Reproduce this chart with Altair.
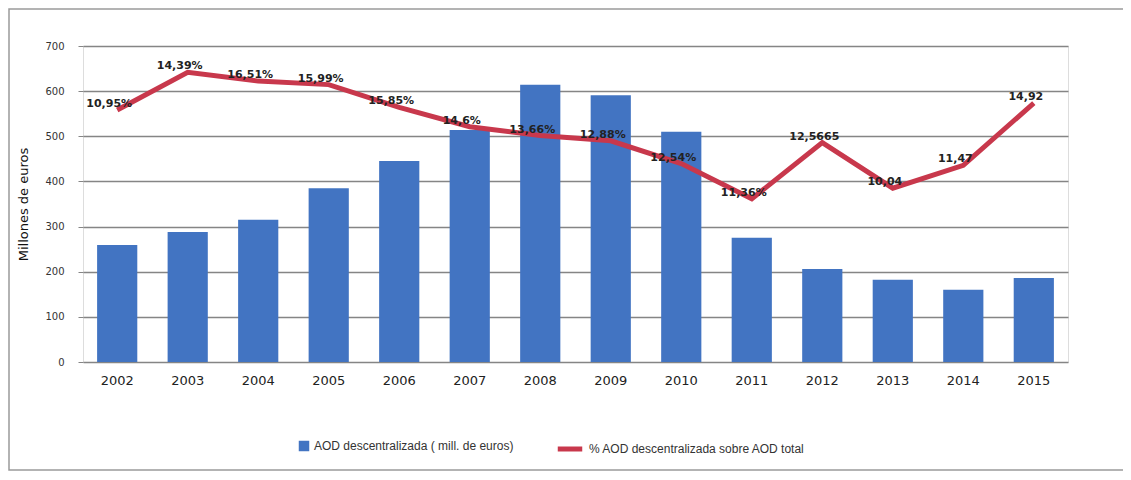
import altair as alt
import pandas as pd

years = [str(y) for y in range(2002, 2016)]
aod = [259, 288, 315, 385, 445, 514, 614, 591, 510, 275, 206, 182, 160, 186]
pct = [14.35, 16.5, 16.0, 15.8, 14.5, 13.4, 12.9, 12.6, 11.3, 9.3, 12.5, 9.9, 11.2, 14.75]
labels = ["10,95%", "14,39%", "16,51%", "15,99%", "15,85%", "14,6%", "13,66%",
          "12,88%", "12,54%", "11,36%", "12,5665", "10,04", "11,47", "14,92"]
bar_name = "AOD descentralizada ( mill. de euros)"
line_name = "% AOD descentralizada sobre AOD total"

df = pd.DataFrame({"year": years, "aod": aod, "pct": pct, "label": labels,
                   "sb": bar_name, "sl": line_name})

FONT = "DejaVu Sans"
LFONT = "Liberation Sans"
W, H = 985, 316

x = alt.X("year:N", title=None, sort=years,
          scale=alt.Scale(paddingInner=0.43, paddingOuter=0.2),
          axis=alt.Axis(labelAngle=0, ticks=False, domain=False, labelFontSize=13,
                        labelPadding=12, labelColor="#222", labelFont=FONT))

bars = alt.Chart(df).mark_bar(color="#4274c2").encode(
    x=x,
    y=alt.Y("aod:Q", title="Millones de euros",
            scale=alt.Scale(domain=[0, 700]),
            axis=alt.Axis(values=list(range(0, 701, 100)), domain=False, grid=True,
                          gridColor="#858585", gridWidth=1.6, tickColor="#858585",
                          tickSize=5, labelFontSize=10, labelColor="#333",
                          labelFont=FONT, labelPadding=14, titleFont=FONT,
                          titleFontSize=13, titleFontWeight="normal",
                          titleColor="#111", titlePadding=14)),
    fill=alt.Fill("sb:N", title=None,
                  scale=alt.Scale(domain=[bar_name], range=["#4274c2"]),
                  legend=alt.Legend(orient="none", legendX=215, legendY=394,
                                    symbolType="square", symbolSize=110,
                                    labelFontSize=12, labelFont=LFONT, labelLimit=0,
                                    labelColor="#333", symbolStrokeWidth=0)),
)

line = alt.Chart(df).mark_line(strokeWidth=5, color="#c8384c").encode(
    x=x,
    y=alt.Y("pct:Q", title=None, scale=alt.Scale(domain=[0, 18]),
            axis=alt.Axis(orient="right", values=list(range(0, 19, 2)), grid=False,
                          domain=True, domainColor="#858585", domainWidth=1.6,
                          tickColor="#858585", tickSize=5, labelFontSize=11,
                          labelColor="#333", labelFont=FONT, labelPadding=6)),
    stroke=alt.Stroke("sl:N", title=None,
                      scale=alt.Scale(domain=[line_name], range=["#c8384c"]),
                      legend=alt.Legend(orient="none", legendX=472, legendY=388,
                                        symbolType="stroke", symbolSize=600,
                                        symbolStrokeWidth=5, labelFontSize=12,
                                        labelFont=LFONT, labelLimit=0,
                                        labelColor="#333")),
)

text = alt.Chart(df).mark_text(fontSize=11, font=FONT, fontWeight="bold",
                               color="#222", dx=-8, dy=-6).encode(
    x=x, y=alt.Y("pct:Q", scale=alt.Scale(domain=[0, 18]), axis=None),
    text="label:N",
)

frame = alt.Chart(pd.DataFrame({"a": [0]})).mark_rect(
    fill=None, stroke="#9a9a9a", strokeWidth=1.5).encode(
    x=alt.value(-74), x2=alt.value(1041), y=alt.value(-37), y2=alt.value(424))

right = alt.layer(line, text)
chart = alt.layer(frame, bars, right).resolve_scale(
    y="independent", fill="independent", stroke="independent").properties(
    width=W, height=H,
    autosize=alt.AutoSizeParams(type="none"),
    padding={"left": 75, "top": 38, "right": 55, "bottom": 110},
).configure_view(stroke=None).configure(background="white")

chart.save("out.html", embed_options={"renderer": "svg", "actions": False})
